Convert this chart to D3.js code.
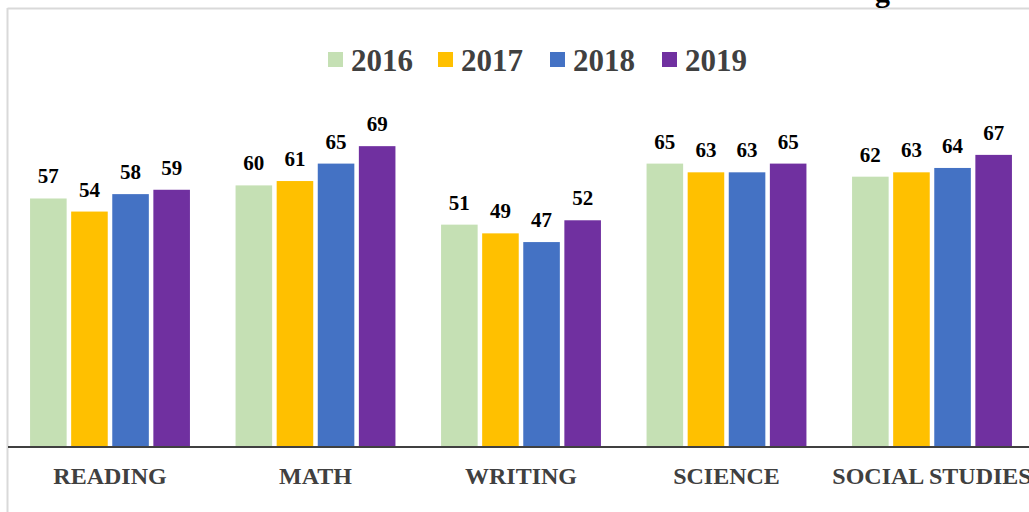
<!DOCTYPE html>
<html><head><meta charset="utf-8">
<script src="https://cdn.jsdelivr.net/npm/d3@7/dist/d3.min.js"></script>
<style>html,body{margin:0;padding:0;background:#fff;overflow:hidden}</style>
</head><body>
<svg id="chart" width="1029" height="512"></svg>
<script>
const categories = ["READING", "MATH", "WRITING", "SCIENCE", "SOCIAL STUDIES"];
const years = ["2016", "2017", "2018", "2019"];
const values2016 = [57, 60, 51, 65, 62];
const values2017 = [54, 61, 49, 63, 63];
const values2018 = [58, 65, 47, 63, 64];
const values2019 = [59, 69, 52, 65, 67];
const colors = ["#C5E0B4", "#FFC000", "#4472C4", "#7030A0"];
const seriesValues = [values2016, values2017, values2018, values2019];

const svg = d3.select("#chart");
const font = "'Liberation Serif','Times New Roman',serif";

// frame
svg.append("line").attr("x1", 7.5).attr("x2", 1029).attr("y1", 8.5).attr("y2", 8.5)
  .attr("stroke", "#d9d9d9").attr("stroke-width", 2);
svg.append("line").attr("x1", 7.5).attr("x2", 7.5).attr("y1", 8).attr("y2", 512)
  .attr("stroke", "#d9d9d9").attr("stroke-width", 2);

// cut-off title descender
svg.append("text").attr("x", 890).attr("y", 2).attr("text-anchor", "end")
  .attr("font-family", font).attr("font-weight", "bold").attr("font-size", 30)
  .attr("fill", "#000").text("g");

const x0 = d3.scaleBand().domain(categories).range([7.25, 1034.75])
  .paddingInner(0.222).paddingOuter(0.111);
const x1 = d3.scaleBand().domain(years).range([0, x0.bandwidth()]).paddingInner(0.11);
const y = d3.scaleLinear().domain([0, 100]).range([447, 11]);

const groups = svg.append("g").selectAll("g").data(categories).join("g")
  .attr("transform", d => `translate(${x0(d)},0)`);

years.forEach((yr, si) => {
  groups.append("rect")
    .attr("x", x1(yr))
    .attr("width", x1.bandwidth())
    .attr("y", (d, i) => y(seriesValues[si][i]))
    .attr("height", (d, i) => y(0) - y(seriesValues[si][i]))
    .attr("fill", colors[si]);
  groups.append("text")
    .attr("x", x1(yr) + x1.bandwidth() / 2)
    .attr("y", (d, i) => y(seriesValues[si][i]) - 15)
    .attr("text-anchor", "middle")
    .attr("font-family", font).attr("font-weight", "bold").attr("font-size", 21)
    .attr("fill", "#000")
    .text((d, i) => seriesValues[si][i]);
});

// x axis
const xAxis = svg.append("g").attr("transform", "translate(0,447)")
  .call(d3.axisBottom(x0).tickSize(0).tickPadding(37));
xAxis.select(".domain").attr("stroke", "#404040").attr("stroke-width", 2)
  .attr("d", "M8,0H1029");
xAxis.selectAll("text").attr("font-family", font).attr("font-weight", "bold")
  .attr("font-size", 24).attr("fill", "#404040").attr("dy", 0);

// legend
const legendX = [328, 438, 550, 662];
const legend = svg.append("g");
years.forEach((yr, i) => {
  legend.append("rect").attr("x", legendX[i]).attr("y", 52).attr("width", 15).attr("height", 15)
    .attr("fill", colors[i]);
  legend.append("text").attr("x", legendX[i] + 23).attr("y", 71)
    .attr("font-family", font).attr("font-weight", "bold").attr("font-size", 31)
    .attr("fill", "#404040").text(yr);
});
</script>
</body></html>
